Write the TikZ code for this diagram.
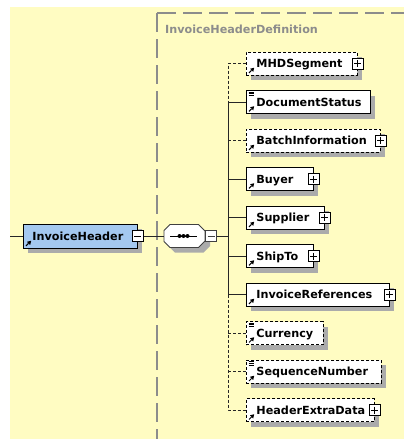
\documentclass[tikz,border=0pt]{standalone}
\usepackage{fontspec}
\newfontfamily\dvsans{DejaVu Sans}
\usetikzlibrary{shadows,calc}

\definecolor{bgyellow}{HTML}{FFFCC2}
\definecolor{shadowgray}{HTML}{ABABAB}
\definecolor{framegray}{HTML}{8C8C8C}
\definecolor{headblue}{HTML}{A4C8F0}
\definecolor{compgray}{HTML}{404040}
\newcommand\lblfont{\dvsans\bfseries\fontsize{11.2pt}{13pt}\selectfont}

\tikzset{
  box/.style={draw=black, line width=0.9pt, fill=white, inner xsep=10pt, inner ysep=0pt,
    minimum height=23pt, text height=8pt, text depth=0pt, anchor=west, align=left,
    font=\lblfont,
    drop shadow={shadow xshift=5pt, shadow yshift=-5pt, opacity=1, fill=shadowgray}},
  opt/.style={dash pattern=on 3pt off 2pt},
  conn/.style={draw=black!85, line width=0.9pt},
  frame/.style={draw=framegray, line width=1.2pt, dash pattern=on 19pt off 7pt},
  plusbox/.style={draw=black, line width=0.8pt, fill=white, minimum size=11pt, inner sep=0pt,
    path picture={\draw[line width=0.9pt]
      ($(path picture bounding box.center)+(-3.5,0)$) -- ($(path picture bounding box.center)+(3.5,0)$)
      ($(path picture bounding box.center)+(0,-3.5)$) -- ($(path picture bounding box.center)+(0,3.5)$);}},
  minusbox/.style={draw=black, line width=0.8pt, fill=white, minimum size=11pt, inner sep=0pt,
    path picture={\draw[line width=0.9pt]
      ($(path picture bounding box.center)+(-3.5,0)$) -- ($(path picture bounding box.center)+(3.5,0)$);}},
  refmark/.pic={
    \draw[line width=1pt] (0,0) -- (2.5,-2.5);
    \fill (5.2,-5.2) -- (1,-4.2) -- (4.2,-1) -- cycle;},
  simplemark/.pic={
    \draw[line width=0.8pt] (2.5,2) -- (8,2) (2.5,3.8) -- (8,3.8) (2.5,5.6) -- (8,5.6);}
}

\begin{document}
\begin{tikzpicture}[x=1pt,y=-1pt]
  \useasboundingbox (0,0) rectangle (404,439);
  \fill[white] (0,0) rectangle (404,439);
  \fill[bgyellow] (10,7) rectangle (404,439);

  % complex type frame
  \draw[frame] (157,13) -- (404,13);
  \draw[frame] (157,13) -- (157,439);
  \node[anchor=base west, inner sep=0pt, font=\lblfont, text=framegray] (deflbl) at (165,33) {InvoiceHeaderDefinition};

  % root element
  \coordinate (entry) at (10,236);
  \node[box, fill=headblue, text width=96pt, inner xsep=9pt, minimum height=24pt] (ih) at (23,236) {InvoiceHeader};
  \pic at ($(ih.south west)+(3,-2.5)$) {refmark};
  \node[minusbox] (ihm) at (ih.east) {};

  % sequence compositor
  \node[inner sep=0pt, minimum width=41pt, minimum height=23pt] (seq) at (184.5,236) {};
  \begin{scope}[shift={(seq.center)}]
    \fill[shadowgray, shift={(5,5)}] (-20.5,-5.5) -- (-14.5,-11.5) -- (14,-11.5) -- (20.5,-5) -- (20.5,5) -- (14,11.5) -- (-14.5,11.5) -- (-20.5,5.5) -- cycle;
    \draw[compgray, fill=white, line width=0.9pt] (-20.5,-5.5) -- (-14.5,-11.5) -- (14,-11.5) -- (20.5,-5) -- (20.5,5) -- (14,11.5) -- (-14.5,11.5) -- (-20.5,5.5) -- cycle;
    \draw[line width=1pt] (-14.5,0) -- (12.5,0);
    \fill (-5,0) circle (2) (-1,0) circle (2) (3,0) circle (2);
  \end{scope}
  \node[minusbox, draw=compgray, anchor=west] (seqm) at (seq.east) {};

  % child elements
  \node[box, opt, text width=91pt] (mhd) at (246,63.5) {MHDSegment};
  \node[box, text width=104pt] (ds) at (246,102) {DocumentStatus};
  \node[box, opt, text width=114pt] (bi) at (246,140.5) {BatchInformation};
  \node[box, text width=47pt] (buy) at (246,179) {Buyer};
  \node[box, text width=58pt] (sup) at (246,217.5) {Supplier};
  \node[box, text width=47pt] (ship) at (246,256) {ShipTo};
  \node[box, text width=123pt] (ir) at (246,294.5) {InvoiceReferences};
  \node[box, opt, text width=57pt] (cur) at (246,333) {Currency};
  \node[box, opt, text width=115pt] (sn) at (246,371.5) {SequenceNumber};
  \node[box, opt, text width=108pt] (hed) at (246,410) {HeaderExtraData};

  \foreach \n in {mhd,ds,bi,buy,sup,ship,ir,cur,sn,hed}
    \pic at ($(\n.south west)+(3,-2.5)$) {refmark};
  \foreach \n in {ds,cur,sn}
    \pic at (\n.north west) {simplemark};

  \node[plusbox] (mhdp) at (mhd.east) {};
  \node[plusbox] (bip) at (bi.east) {};
  \node[plusbox] (buyp) at (buy.east) {};
  \node[plusbox] (supp) at (sup.east) {};
  \node[plusbox] (shipp) at (ship.east) {};
  \node[plusbox] (irp) at (ir.east) {};
  \node[plusbox] (hedp) at (hed.east) {};

  % connectors
  \coordinate (bus) at (228,236);
  \draw[conn] (entry) -- (ih.west);
  \draw[conn] (ihm.east) -- (seq.west);
  \draw[conn] (seqm.east) -- (bus);
  \draw[conn, opt] (mhd.west) -- (mhd.west -| bus) -- (ds.west -| bus);
  \draw[conn] (ds.west -| bus) -- (ir.west -| bus);
  \draw[conn, opt] (ir.west -| bus) -- (hed.west -| bus) -- (hed.west);
  \foreach \n in {ds,buy,sup,ship,ir}
    \draw[conn] (\n.west -| bus) -- (\n.west);
  \foreach \n in {bi,cur,sn}
    \draw[conn, opt] (\n.west -| bus) -- (\n.west);
\end{tikzpicture}
\end{document}
